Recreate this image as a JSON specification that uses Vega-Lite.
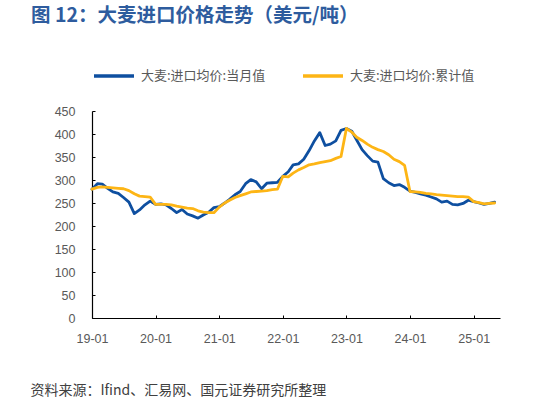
{
  "$schema": "https://vega.github.io/schema/vega-lite/v6.json",
  "autosize": "none",
  "width": 408,
  "height": 207,
  "padding": {"left": 92, "top": 111, "right": 36, "bottom": 85},
  "background": "white",
  "title": {
    "text": "图 12：大麦进口价格走势（美元/吨）",
    "anchor": "start",
    "frame": "group",
    "dx": -61,
    "offset": 28,
    "font": "Noto Sans CJK SC",
    "fontSize": 19.5,
    "fontWeight": "bold",
    "color": "#2E5C9E"
  },
  "data": {
    "values": [
      {"date": "2019-01-01", "s": "大麦:进口均价:当月值", "v": 280},
      {"date": "2019-02-01", "s": "大麦:进口均价:当月值", "v": 292},
      {"date": "2019-03-01", "s": "大麦:进口均价:当月值", "v": 291},
      {"date": "2019-04-01", "s": "大麦:进口均价:当月值", "v": 282},
      {"date": "2019-05-01", "s": "大麦:进口均价:当月值", "v": 274},
      {"date": "2019-06-01", "s": "大麦:进口均价:当月值", "v": 271},
      {"date": "2019-07-01", "s": "大麦:进口均价:当月值", "v": 262},
      {"date": "2019-08-01", "s": "大麦:进口均价:当月值", "v": 252},
      {"date": "2019-09-01", "s": "大麦:进口均价:当月值", "v": 227},
      {"date": "2019-10-01", "s": "大麦:进口均价:当月值", "v": 235},
      {"date": "2019-11-01", "s": "大麦:进口均价:当月值", "v": 246},
      {"date": "2019-12-01", "s": "大麦:进口均价:当月值", "v": 254},
      {"date": "2020-01-01", "s": "大麦:进口均价:当月值", "v": 247},
      {"date": "2020-02-01", "s": "大麦:进口均价:当月值", "v": 248},
      {"date": "2020-03-01", "s": "大麦:进口均价:当月值", "v": 246},
      {"date": "2020-04-01", "s": "大麦:进口均价:当月值", "v": 238},
      {"date": "2020-05-01", "s": "大麦:进口均价:当月值", "v": 229},
      {"date": "2020-06-01", "s": "大麦:进口均价:当月值", "v": 236},
      {"date": "2020-07-01", "s": "大麦:进口均价:当月值", "v": 226},
      {"date": "2020-08-01", "s": "大麦:进口均价:当月值", "v": 222},
      {"date": "2020-09-01", "s": "大麦:进口均价:当月值", "v": 217},
      {"date": "2020-10-01", "s": "大麦:进口均价:当月值", "v": 224},
      {"date": "2020-11-01", "s": "大麦:进口均价:当月值", "v": 230},
      {"date": "2020-12-01", "s": "大麦:进口均价:当月值", "v": 240},
      {"date": "2021-01-01", "s": "大麦:进口均价:当月值", "v": 242},
      {"date": "2021-02-01", "s": "大麦:进口均价:当月值", "v": 250},
      {"date": "2021-03-01", "s": "大麦:进口均价:当月值", "v": 258},
      {"date": "2021-04-01", "s": "大麦:进口均价:当月值", "v": 268},
      {"date": "2021-05-01", "s": "大麦:进口均价:当月值", "v": 275},
      {"date": "2021-06-01", "s": "大麦:进口均价:当月值", "v": 292},
      {"date": "2021-07-01", "s": "大麦:进口均价:当月值", "v": 301},
      {"date": "2021-08-01", "s": "大麦:进口均价:当月值", "v": 296},
      {"date": "2021-09-01", "s": "大麦:进口均价:当月值", "v": 281},
      {"date": "2021-10-01", "s": "大麦:进口均价:当月值", "v": 293},
      {"date": "2021-11-01", "s": "大麦:进口均价:当月值", "v": 294},
      {"date": "2021-12-01", "s": "大麦:进口均价:当月值", "v": 295},
      {"date": "2022-01-01", "s": "大麦:进口均价:当月值", "v": 308},
      {"date": "2022-02-01", "s": "大麦:进口均价:当月值", "v": 318},
      {"date": "2022-03-01", "s": "大麦:进口均价:当月值", "v": 333},
      {"date": "2022-04-01", "s": "大麦:进口均价:当月值", "v": 335},
      {"date": "2022-05-01", "s": "大麦:进口均价:当月值", "v": 345},
      {"date": "2022-06-01", "s": "大麦:进口均价:当月值", "v": 364},
      {"date": "2022-07-01", "s": "大麦:进口均价:当月值", "v": 385},
      {"date": "2022-08-01", "s": "大麦:进口均价:当月值", "v": 403},
      {"date": "2022-09-01", "s": "大麦:进口均价:当月值", "v": 375},
      {"date": "2022-10-01", "s": "大麦:进口均价:当月值", "v": 378},
      {"date": "2022-11-01", "s": "大麦:进口均价:当月值", "v": 385},
      {"date": "2022-12-01", "s": "大麦:进口均价:当月值", "v": 408},
      {"date": "2023-01-01", "s": "大麦:进口均价:当月值", "v": 412},
      {"date": "2023-02-01", "s": "大麦:进口均价:当月值", "v": 406},
      {"date": "2023-03-01", "s": "大麦:进口均价:当月值", "v": 387},
      {"date": "2023-04-01", "s": "大麦:进口均价:当月值", "v": 366},
      {"date": "2023-05-01", "s": "大麦:进口均价:当月值", "v": 353},
      {"date": "2023-06-01", "s": "大麦:进口均价:当月值", "v": 341},
      {"date": "2023-07-01", "s": "大麦:进口均价:当月值", "v": 339},
      {"date": "2023-08-01", "s": "大麦:进口均价:当月值", "v": 303},
      {"date": "2023-09-01", "s": "大麦:进口均价:当月值", "v": 294},
      {"date": "2023-10-01", "s": "大麦:进口均价:当月值", "v": 288},
      {"date": "2023-11-01", "s": "大麦:进口均价:当月值", "v": 290},
      {"date": "2023-12-01", "s": "大麦:进口均价:当月值", "v": 284},
      {"date": "2024-01-01", "s": "大麦:进口均价:当月值", "v": 276},
      {"date": "2024-02-01", "s": "大麦:进口均价:当月值", "v": 273},
      {"date": "2024-03-01", "s": "大麦:进口均价:当月值", "v": 270},
      {"date": "2024-04-01", "s": "大麦:进口均价:当月值", "v": 267},
      {"date": "2024-05-01", "s": "大麦:进口均价:当月值", "v": 263},
      {"date": "2024-06-01", "s": "大麦:进口均价:当月值", "v": 259},
      {"date": "2024-07-01", "s": "大麦:进口均价:当月值", "v": 252},
      {"date": "2024-08-01", "s": "大麦:进口均价:当月值", "v": 254},
      {"date": "2024-09-01", "s": "大麦:进口均价:当月值", "v": 247},
      {"date": "2024-10-01", "s": "大麦:进口均价:当月值", "v": 246},
      {"date": "2024-11-01", "s": "大麦:进口均价:当月值", "v": 249},
      {"date": "2024-12-01", "s": "大麦:进口均价:当月值", "v": 256},
      {"date": "2025-01-01", "s": "大麦:进口均价:当月值", "v": 253},
      {"date": "2025-02-01", "s": "大麦:进口均价:当月值", "v": 250},
      {"date": "2025-03-01", "s": "大麦:进口均价:当月值", "v": 247},
      {"date": "2025-04-01", "s": "大麦:进口均价:当月值", "v": 249},
      {"date": "2025-05-01", "s": "大麦:进口均价:当月值", "v": 252},
      {"date": "2019-01-01", "s": "大麦:进口均价:累计值", "v": 280},
      {"date": "2019-02-01", "s": "大麦:进口均价:累计值", "v": 284},
      {"date": "2019-03-01", "s": "大麦:进口均价:累计值", "v": 285},
      {"date": "2019-04-01", "s": "大麦:进口均价:累计值", "v": 284},
      {"date": "2019-05-01", "s": "大麦:进口均价:累计值", "v": 283},
      {"date": "2019-06-01", "s": "大麦:进口均价:累计值", "v": 282},
      {"date": "2019-07-01", "s": "大麦:进口均价:累计值", "v": 281},
      {"date": "2019-08-01", "s": "大麦:进口均价:累计值", "v": 277},
      {"date": "2019-09-01", "s": "大麦:进口均价:累计值", "v": 270},
      {"date": "2019-10-01", "s": "大麦:进口均价:累计值", "v": 265},
      {"date": "2019-11-01", "s": "大麦:进口均价:累计值", "v": 264},
      {"date": "2019-12-01", "s": "大麦:进口均价:累计值", "v": 263},
      {"date": "2020-01-01", "s": "大麦:进口均价:累计值", "v": 247},
      {"date": "2020-02-01", "s": "大麦:进口均价:累计值", "v": 247},
      {"date": "2020-03-01", "s": "大麦:进口均价:累计值", "v": 247},
      {"date": "2020-04-01", "s": "大麦:进口均价:累计值", "v": 246},
      {"date": "2020-05-01", "s": "大麦:进口均价:累计值", "v": 243},
      {"date": "2020-06-01", "s": "大麦:进口均价:累计值", "v": 241},
      {"date": "2020-07-01", "s": "大麦:进口均价:累计值", "v": 239},
      {"date": "2020-08-01", "s": "大麦:进口均价:累计值", "v": 238},
      {"date": "2020-09-01", "s": "大麦:进口均价:累计值", "v": 233},
      {"date": "2020-10-01", "s": "大麦:进口均价:累计值", "v": 230},
      {"date": "2020-11-01", "s": "大麦:进口均价:累计值", "v": 229},
      {"date": "2020-12-01", "s": "大麦:进口均价:累计值", "v": 229},
      {"date": "2021-01-01", "s": "大麦:进口均价:累计值", "v": 241},
      {"date": "2021-02-01", "s": "大麦:进口均价:累计值", "v": 250},
      {"date": "2021-03-01", "s": "大麦:进口均价:累计值", "v": 256},
      {"date": "2021-04-01", "s": "大麦:进口均价:累计值", "v": 262},
      {"date": "2021-05-01", "s": "大麦:进口均价:累计值", "v": 266},
      {"date": "2021-06-01", "s": "大麦:进口均价:累计值", "v": 270},
      {"date": "2021-07-01", "s": "大麦:进口均价:累计值", "v": 274},
      {"date": "2021-08-01", "s": "大麦:进口均价:累计值", "v": 275},
      {"date": "2021-09-01", "s": "大麦:进口均价:累计值", "v": 276},
      {"date": "2021-10-01", "s": "大麦:进口均价:累计值", "v": 277},
      {"date": "2021-11-01", "s": "大麦:进口均价:累计值", "v": 279},
      {"date": "2021-12-01", "s": "大麦:进口均价:累计值", "v": 280},
      {"date": "2022-01-01", "s": "大麦:进口均价:累计值", "v": 308},
      {"date": "2022-02-01", "s": "大麦:进口均价:累计值", "v": 307},
      {"date": "2022-03-01", "s": "大麦:进口均价:累计值", "v": 315},
      {"date": "2022-04-01", "s": "大麦:进口均价:累计值", "v": 322},
      {"date": "2022-05-01", "s": "大麦:进口均价:累计值", "v": 327},
      {"date": "2022-06-01", "s": "大麦:进口均价:累计值", "v": 333},
      {"date": "2022-07-01", "s": "大麦:进口均价:累计值", "v": 335},
      {"date": "2022-08-01", "s": "大麦:进口均价:累计值", "v": 338},
      {"date": "2022-09-01", "s": "大麦:进口均价:累计值", "v": 340},
      {"date": "2022-10-01", "s": "大麦:进口均价:累计值", "v": 342},
      {"date": "2022-11-01", "s": "大麦:进口均价:累计值", "v": 347},
      {"date": "2022-12-01", "s": "大麦:进口均价:累计值", "v": 351},
      {"date": "2023-01-01", "s": "大麦:进口均价:累计值", "v": 412},
      {"date": "2023-02-01", "s": "大麦:进口均价:累计值", "v": 404},
      {"date": "2023-03-01", "s": "大麦:进口均价:累计值", "v": 393},
      {"date": "2023-04-01", "s": "大麦:进口均价:累计值", "v": 386},
      {"date": "2023-05-01", "s": "大麦:进口均价:累计值", "v": 378},
      {"date": "2023-06-01", "s": "大麦:进口均价:累计值", "v": 371},
      {"date": "2023-07-01", "s": "大麦:进口均价:累计值", "v": 366},
      {"date": "2023-08-01", "s": "大麦:进口均价:累计值", "v": 362},
      {"date": "2023-09-01", "s": "大麦:进口均价:累计值", "v": 355},
      {"date": "2023-10-01", "s": "大麦:进口均价:累计值", "v": 345},
      {"date": "2023-11-01", "s": "大麦:进口均价:累计值", "v": 340},
      {"date": "2023-12-01", "s": "大麦:进口均价:累计值", "v": 332},
      {"date": "2024-01-01", "s": "大麦:进口均价:累计值", "v": 275},
      {"date": "2024-02-01", "s": "大麦:进口均价:累计值", "v": 274},
      {"date": "2024-03-01", "s": "大麦:进口均价:累计值", "v": 273},
      {"date": "2024-04-01", "s": "大麦:进口均价:累计值", "v": 271},
      {"date": "2024-05-01", "s": "大麦:进口均价:累计值", "v": 270},
      {"date": "2024-06-01", "s": "大麦:进口均价:累计值", "v": 268},
      {"date": "2024-07-01", "s": "大麦:进口均价:累计值", "v": 267},
      {"date": "2024-08-01", "s": "大麦:进口均价:累计值", "v": 266},
      {"date": "2024-09-01", "s": "大麦:进口均价:累计值", "v": 265},
      {"date": "2024-10-01", "s": "大麦:进口均价:累计值", "v": 264},
      {"date": "2024-11-01", "s": "大麦:进口均价:累计值", "v": 264},
      {"date": "2024-12-01", "s": "大麦:进口均价:累计值", "v": 263},
      {"date": "2025-01-01", "s": "大麦:进口均价:累计值", "v": 253},
      {"date": "2025-02-01", "s": "大麦:进口均价:累计值", "v": 251},
      {"date": "2025-03-01", "s": "大麦:进口均价:累计值", "v": 248},
      {"date": "2025-04-01", "s": "大麦:进口均价:累计值", "v": 249},
      {"date": "2025-05-01", "s": "大麦:进口均价:累计值", "v": 250}
    ]
  },
  "mark": {"type": "line", "strokeWidth": 2.8, "strokeJoin": "round", "strokeCap": "round", "clip": false},
  "encoding": {
    "x": {
      "field": "date",
      "type": "temporal",
      "scale": {"domain": ["2019-01-01", "2025-06-01"]},
      "axis": {
        "title": "资料来源：Ifind、汇易网、国元证券研究所整理",
        "titleAnchor": "start",
        "titleAlign": "left",
        "titleX": -62,
        "titleY": 72,
        "titleBaseline": "middle",
        "titleFont": "Noto Sans CJK SC",
        "titleFontSize": 14,
        "titleFontWeight": "normal",
        "titleColor": "#404040",
        "values": ["2019-01-01", "2020-01-01", "2021-01-01", "2022-01-01", "2023-01-01", "2024-01-01", "2025-01-01"],
        "format": "%y-%m",
        "labelFlush": false,
        "labelOverlap": false,
        "grid": false,
        "domainColor": "#000000",
        "domainWidth": 1.2,
        "tickColor": "#000000",
        "tickSize": -3,
        "labelPadding": 17,
        "labelFont": "Liberation Sans",
        "labelFontSize": 12.5,
        "labelColor": "#595959"
      }
    },
    "y": {
      "field": "v",
      "type": "quantitative",
      "scale": {"domain": [0, 450], "nice": false},
      "axis": {
        "title": null,
        "values": [0, 50, 100, 150, 200, 250, 300, 350, 400, 450],
        "grid": false,
        "domainColor": "#000000",
        "domainWidth": 1.2,
        "tickColor": "#000000",
        "tickSize": -3,
        "labelPadding": 20,
        "labelFont": "Liberation Sans",
        "labelFontSize": 12.5,
        "labelColor": "#595959"
      }
    },
    "color": {
      "field": "s",
      "type": "nominal",
      "scale": {"domain": ["大麦:进口均价:当月值", "大麦:进口均价:累计值"], "range": ["#0E4FA0", "#FDB515"]},
      "legend": {
        "title": null,
        "orient": "none",
        "direction": "horizontal",
        "legendX": 0,
        "legendY": -57,
        "symbolType": "stroke",
        "symbolSize": 1600,
        "symbolStrokeWidth": 3.5,
        "labelOffset": 5,
        "columnPadding": 30,
        "labelFont": "Noto Sans CJK SC",
        "labelFontSize": 13,
        "labelColor": "#595959",
        "labelLimit": 300
      }
    }
  },
  "config": {"view": {"stroke": null}}
}
